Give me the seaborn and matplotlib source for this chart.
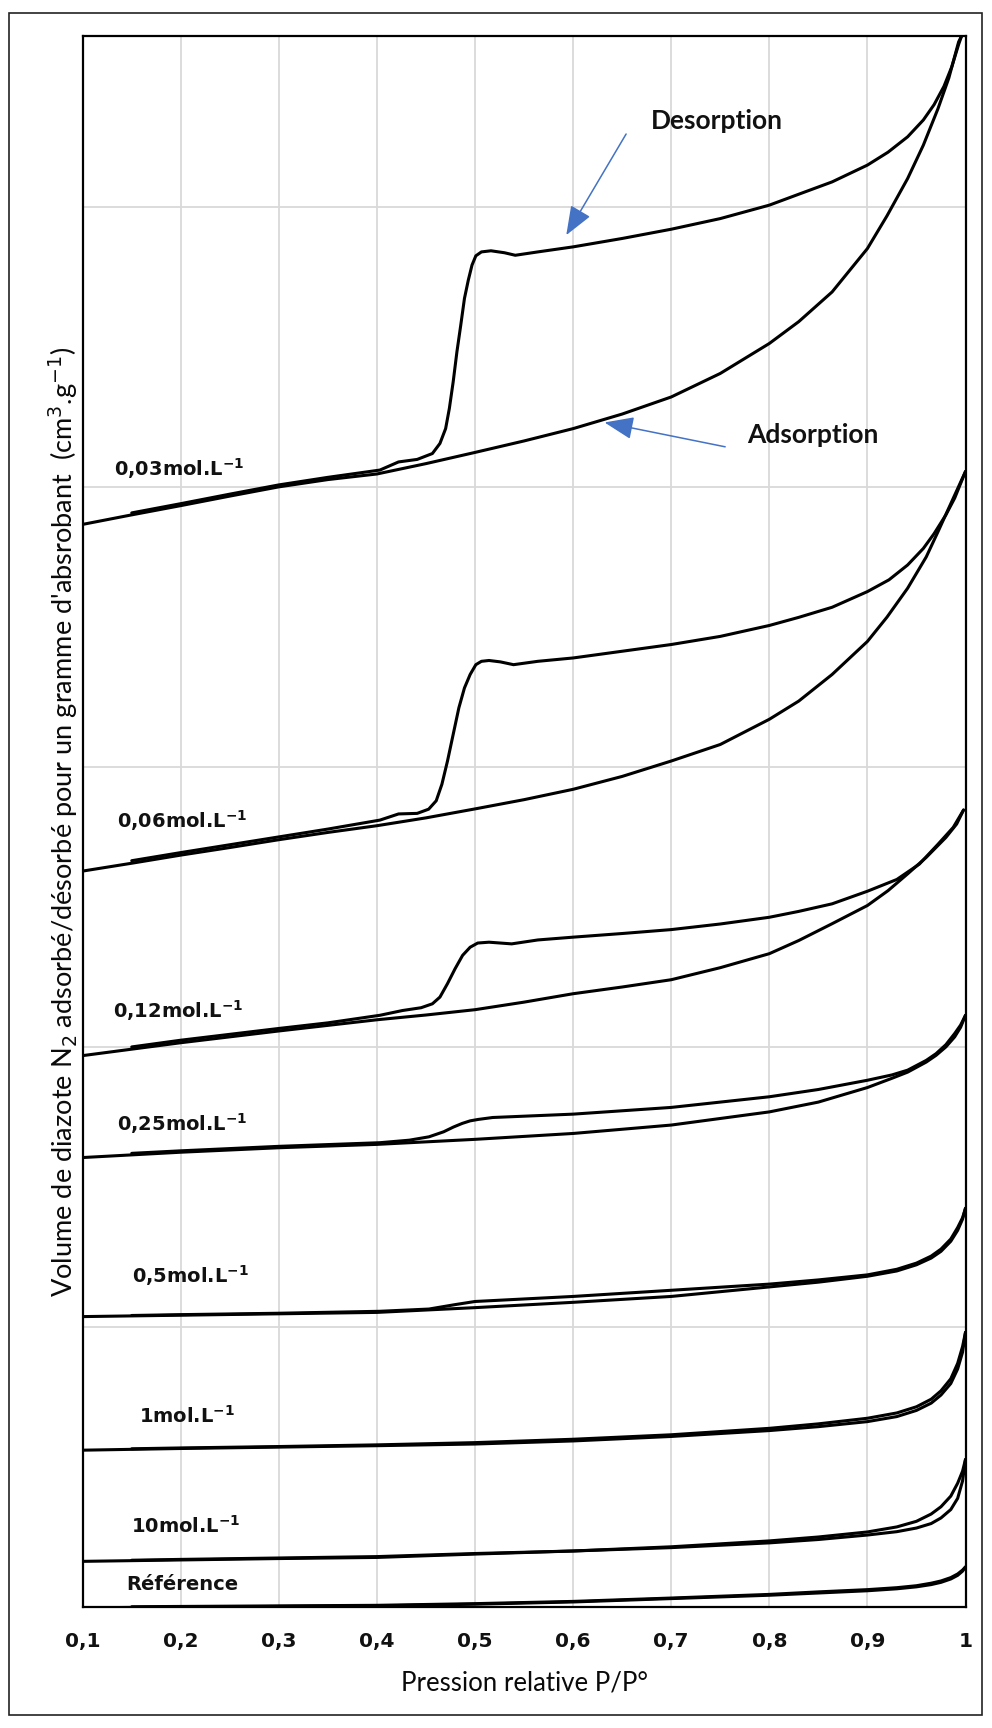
import numpy as np
import pandas as pd
import matplotlib
matplotlib.use("Agg")
import matplotlib.pyplot as plt
import seaborn as sns
from matplotlib.patches import Rectangle

# ---------------- data ----------------
x_ticks = [0.1, 0.2, 0.3, 0.4, 0.5, 0.6, 0.7, 0.8, 0.9, 1.0]
x_tick_labels = ["0,1", "0,2", "0,3", "0,4", "0,5", "0,6", "0,7", "0,8", "0,9", "1"]
y_grid = [0, 100, 200, 300, 400, 500]

# 0,03 mol/L
c003_ads_x = [0.10, 0.15, 0.20, 0.25, 0.30, 0.35, 0.40, 0.45, 0.50, 0.55, 0.60, 0.65, 0.70, 0.75, 0.80, 0.83, 0.864, 0.90, 0.92, 0.941, 0.957, 0.972, 0.983, 0.993, 0.996]
c003_ads_y = [386.6, 390.0, 393.3, 396.7, 400.0, 402.6, 404.6, 408.3, 412.3, 416.4, 420.8, 426.0, 432.1, 440.5, 451.2, 459.0, 469.6, 485.1, 496.8, 510.1, 522.0, 535.1, 546.0, 558.9, 561.0]
c003_des_x = [0.996, 0.993, 0.986, 0.978, 0.968, 0.957, 0.941, 0.921, 0.90, 0.864, 0.83, 0.80, 0.75, 0.70, 0.65, 0.60, 0.564, 0.541, 0.53, 0.5162, 0.5065, 0.5008, 0.4969, 0.4931, 0.4892, 0.4854, 0.4815, 0.4777, 0.4738, 0.470, 0.4642, 0.4565, 0.441, 0.422, 0.403, 0.35, 0.30, 0.25, 0.20, 0.15]
c003_des_y = [561.0, 558.0, 550.0, 543.0, 536.5, 531.0, 525.0, 519.5, 514.9, 508.9, 504.5, 500.6, 495.8, 492.0, 488.7, 485.7, 483.9, 482.7, 483.6, 484.3, 483.9, 482.5, 479.2, 473.8, 467.3, 457.7, 448.2, 437.5, 428.0, 420.8, 415.5, 411.9, 409.8, 408.9, 406.0, 403.4, 400.7, 397.4, 394.0, 390.7]

# 0,06 mol/L
c006_ads_x = [0.10, 0.15, 0.20, 0.25, 0.30, 0.35, 0.40, 0.45, 0.50, 0.55, 0.60, 0.65, 0.70, 0.75, 0.80, 0.83, 0.864, 0.90, 0.92, 0.941, 0.96, 0.972, 0.985, 1.0]
c006_ads_y = [262.8, 265.6, 268.5, 271.2, 274.0, 276.6, 279.0, 281.8, 285.0, 288.3, 292.0, 296.6, 302.1, 308.0, 317.0, 323.5, 333.0, 344.8, 353.5, 363.8, 375.0, 384.0, 394.0, 405.5]
c006_des_x = [1.0, 0.989, 0.98, 0.968, 0.957, 0.941, 0.922, 0.90, 0.864, 0.83, 0.80, 0.75, 0.70, 0.65, 0.60, 0.564, 0.5392, 0.5258, 0.5142, 0.5065, 0.5008, 0.495, 0.4892, 0.4835, 0.4777, 0.4719, 0.4662, 0.4604, 0.4527, 0.441, 0.422, 0.403, 0.35, 0.30, 0.25, 0.20, 0.15]
c006_des_y = [405.5, 396.0, 390.0, 383.3, 378.0, 372.1, 366.8, 362.6, 357.0, 353.4, 350.5, 346.6, 343.7, 341.3, 338.9, 337.7, 336.5, 337.5, 338.0, 337.7, 336.5, 333.0, 328.2, 321.1, 311.6, 302.1, 293.8, 287.9, 284.9, 283.4, 283.2, 281.0, 277.8, 275.0, 272.2, 269.4, 266.5]

# 0,12 mol/L
c012_ads_x = [0.10, 0.15, 0.20, 0.25, 0.30, 0.35, 0.40, 0.45, 0.50, 0.55, 0.60, 0.65, 0.70, 0.75, 0.80, 0.83, 0.864, 0.90, 0.921, 0.941, 0.96, 0.98, 0.991, 0.998]
c012_ads_y = [196.9, 199.2, 201.5, 203.6, 205.7, 207.7, 209.7, 211.4, 213.3, 216.0, 219.0, 221.4, 224.0, 228.3, 233.3, 238.0, 244.0, 250.5, 255.8, 261.8, 267.7, 274.8, 279.6, 284.6]
c012_des_x = [0.998, 0.9875, 0.972, 0.953, 0.93, 0.90, 0.864, 0.83, 0.80, 0.75, 0.70, 0.65, 0.60, 0.564, 0.5373, 0.5258, 0.5142, 0.5027, 0.495, 0.4873, 0.4796, 0.4719, 0.4642, 0.4565, 0.445, 0.426, 0.403, 0.35, 0.30, 0.25, 0.20, 0.15]
c012_des_y = [284.6, 278.4, 272.4, 265.3, 259.8, 255.6, 251.1, 248.4, 246.3, 243.9, 241.9, 240.5, 239.2, 238.2, 236.8, 237.1, 237.4, 237.1, 235.6, 232.7, 227.9, 222.6, 217.8, 215.4, 214.0, 213.0, 211.3, 208.6, 206.6, 204.5, 202.4, 200.0]

# 0,25 mol/L
c025_ads_x = [0.10, 0.20, 0.30, 0.40, 0.50, 0.60, 0.70, 0.80, 0.85, 0.90, 0.925, 0.941, 0.96, 0.97, 0.98, 0.989, 0.995, 1.0]
c025_ads_y = [160.5, 162.4, 164.0, 165.2, 167.0, 169.1, 172.1, 176.8, 180.3, 185.5, 188.8, 191.0, 194.6, 197.0, 200.0, 203.6, 207.0, 211.3]
c025_des_x = [1.0, 0.995, 0.989, 0.98, 0.97, 0.96, 0.941, 0.925, 0.90, 0.85, 0.80, 0.70, 0.60, 0.518, 0.503, 0.495, 0.487, 0.478, 0.468, 0.453, 0.433, 0.403, 0.30, 0.20, 0.15]
c025_des_y = [211.3, 207.8, 204.8, 200.8, 197.6, 195.2, 191.7, 190.0, 188.1, 184.8, 182.2, 178.4, 176.0, 174.8, 174.1, 173.6, 172.7, 171.4, 169.7, 167.9, 166.7, 165.8, 164.5, 162.9, 162.0]

# 0,5 mol/L
c05_ads_x = [0.10, 0.20, 0.30, 0.40, 0.50, 0.60, 0.70, 0.80, 0.85, 0.90, 0.93, 0.95, 0.965, 0.975, 0.985, 0.992, 0.997, 1.0]
c05_ads_y = [103.7, 104.2, 104.7, 105.2, 106.9, 108.8, 110.9, 114.3, 116.0, 118.1, 120.0, 122.2, 124.6, 127.0, 130.6, 134.5, 138.5, 142.4]
c05_des_x = [1.0, 0.997, 0.992, 0.985, 0.975, 0.965, 0.95, 0.93, 0.90, 0.85, 0.80, 0.70, 0.60, 0.50, 0.48, 0.453, 0.403, 0.30, 0.20, 0.15]
c05_des_y = [142.4, 139.0, 135.5, 131.4, 127.8, 125.3, 122.8, 120.6, 118.6, 116.8, 115.3, 113.1, 110.9, 109.1, 108.0, 106.4, 105.6, 104.9, 104.4, 104.1]

# 1 mol/L
c1_ads_x = [0.10, 0.20, 0.30, 0.40, 0.50, 0.60, 0.70, 0.80, 0.85, 0.90, 0.93, 0.95, 0.965, 0.975, 0.985, 0.992, 0.997, 1.0]
c1_ads_y = [56.0, 56.6, 57.1, 57.6, 58.2, 59.3, 60.9, 63.0, 64.4, 66.2, 68.0, 70.2, 72.8, 75.7, 79.8, 85.0, 91.0, 98.1]
c1_des_x = [1.0, 0.997, 0.992, 0.985, 0.975, 0.965, 0.95, 0.93, 0.90, 0.85, 0.80, 0.70, 0.60, 0.50, 0.40, 0.30, 0.20, 0.15]
c1_des_y = [98.1, 93.0, 87.0, 81.5, 77.2, 74.2, 71.5, 69.3, 67.4, 65.4, 63.8, 61.5, 59.9, 58.7, 57.9, 57.3, 56.8, 56.5]

# 10 mol/L
c10_ads_x = [0.10, 0.20, 0.30, 0.40, 0.50, 0.60, 0.70, 0.80, 0.85, 0.90, 0.93, 0.95, 0.965, 0.975, 0.985, 0.992, 0.997, 1.0]
c10_ads_y = [16.3, 16.8, 17.3, 17.7, 18.9, 20.0, 21.2, 22.9, 24.1, 25.7, 26.9, 28.2, 29.8, 31.8, 34.8, 38.8, 45.0, 52.7]
c10_des_x = [1.0, 0.997, 0.992, 0.985, 0.975, 0.965, 0.95, 0.93, 0.90, 0.85, 0.80, 0.70, 0.60, 0.50, 0.40, 0.30, 0.20, 0.15]
c10_des_y = [52.7, 48.5, 44.2, 39.6, 35.8, 33.2, 30.6, 28.6, 26.8, 25.0, 23.6, 21.5, 20.0, 19.1, 18.0, 17.5, 17.0, 16.7]

# Référence
ref_ads_x = [0.10, 0.20, 0.30, 0.40, 0.50, 0.60, 0.70, 0.80, 0.85, 0.90, 0.93, 0.95, 0.965, 0.975, 0.985, 0.992, 0.997, 1.0]
ref_ads_y = [-0.3, 0.0, 0.2, 0.4, 1.0, 1.8, 3.0, 4.2, 5.0, 5.8, 6.5, 7.2, 8.0, 8.8, 10.0, 11.3, 12.8, 14.3]
ref_des_x = [1.0, 0.997, 0.992, 0.985, 0.975, 0.965, 0.95, 0.93, 0.90, 0.85, 0.80, 0.70, 0.60, 0.50, 0.40, 0.30, 0.20, 0.15]
ref_des_y = [14.3, 13.2, 11.8, 10.5, 9.3, 8.5, 7.6, 6.9, 6.2, 5.4, 4.5, 3.2, 2.0, 1.2, 0.6, 0.4, 0.2, 0.1]

sample_labels = ["0,03mol.L$^{\\mathbf{-1}}$", "0,06mol.L$^{\\mathbf{-1}}$", "0,12mol.L$^{\\mathbf{-1}}$",
                 "0,25mol.L$^{\\mathbf{-1}}$", "0,5mol.L$^{\\mathbf{-1}}$", "1mol.L$^{\\mathbf{-1}}$",
                 "10mol.L$^{\\mathbf{-1}}$", "Référence"]
label_x = [0.132, 0.135, 0.131, 0.135, 0.150, 0.157, 0.149, 0.144]
label_y = [406.4, 280.9, 213.0, 172.7, 118.4, 68.4, 28.8, 7.9]

# ---------------- long-form table ----------------
branches = [
    ("0,03", "ads", c003_ads_x, c003_ads_y), ("0,03", "des", c003_des_x, c003_des_y),
    ("0,06", "ads", c006_ads_x, c006_ads_y), ("0,06", "des", c006_des_x, c006_des_y),
    ("0,12", "ads", c012_ads_x, c012_ads_y), ("0,12", "des", c012_des_x, c012_des_y),
    ("0,25", "ads", c025_ads_x, c025_ads_y), ("0,25", "des", c025_des_x, c025_des_y),
    ("0,5", "ads", c05_ads_x, c05_ads_y), ("0,5", "des", c05_des_x, c05_des_y),
    ("1", "ads", c1_ads_x, c1_ads_y), ("1", "des", c1_des_x, c1_des_y),
    ("10", "ads", c10_ads_x, c10_ads_y), ("10", "des", c10_des_x, c10_des_y),
    ("ref", "ads", ref_ads_x, ref_ads_y), ("ref", "des", ref_des_x, ref_des_y),
]
frames = []
for s, b, xs, ys in branches:
    frames.append(pd.DataFrame({"P": xs, "V": ys, "curve": f"{s}_{b}"}))
df = pd.concat(frames, ignore_index=True)

# ---------------- figure ----------------
sns.set_theme(style="white")
plt.rcParams["font.family"] = ["DejaVu Sans"]
plt.rcParams["mathtext.fontset"] = "dejavusans"

W, H = 992, 1728
fig = plt.figure(figsize=(W / 100, H / 100), dpi=100)
L, R, T, B = 82.7, 965.5, 36.0, 1607.0
ax = fig.add_axes([L / W, (H - B) / H, (R - L) / W, (B - T) / H])

sns.lineplot(data=df, x="P", y="V", units="curve", estimator=None, sort=False,
             color="black", linewidth=2.2, ax=ax, legend=False,
             solid_joinstyle="round", solid_capstyle="round")

ax.set_xlim(0.1, 1.0)
ax.set_ylim(0, 561)
ax.set_xticks(x_ticks)
ax.set_xticklabels(x_tick_labels, fontsize=14.5, fontweight="bold", color="#111111")
ax.set_yticks(y_grid)
ax.set_yticklabels([])
ax.tick_params(axis="both", length=0)
ax.tick_params(axis="x", pad=18)
ax.grid(True, color="#D9D9D9", linewidth=1.3)
ax.set_axisbelow(True)
for sp in ax.spines.values():
    sp.set_color("black")
    sp.set_linewidth(1.6)
ax.set_xlabel("")
ax.set_ylabel("")

# axis titles
ax.text(0.5, -0.0484, "Pression relative P/P°", transform=ax.transAxes,
        ha="center", va="center", fontsize=18.5, color="#0a0a0a",
        family=["Lato", "DejaVu Sans"])
ax.text(-0.0215, 0.5,
        "Volume de diazote N$_2$ adsorbé/désorbé pour un gramme d'absrobant  (cm$^3$.g$^{-1}$)",
        transform=ax.transAxes, rotation=90, ha="center", va="center",
        fontsize=19.5, color="#0a0a0a", family=["Lato", "DejaVu Sans"])

# sample labels
for lab, lx, ly in zip(sample_labels, label_x, label_y):
    ax.text(lx, ly, lab, ha="left", va="center", fontsize=14, fontweight="bold", color="#111111")

# annotations
ax.text(0.679, 530.5, "Desorption", ha="left", va="center", fontsize=19,
        fontweight="bold", color="#111111", family=["Lato", "DejaVu Sans"])
ax.text(0.777, 418.5, "Adsorption", ha="left", va="center", fontsize=19,
        fontweight="bold", color="#111111", family=["Lato", "DejaVu Sans"])
arrow_kw = dict(arrowstyle="-|>,head_length=0.9,head_width=0.35", color="#4472C4",
                lw=1.1, shrinkA=0, shrinkB=0, mutation_scale=20)
ax.annotate("", xy=(0.593, 489.9), xytext=(0.654, 526.0), arrowprops=arrow_kw)
ax.annotate("", xy=(0.632, 423.0), xytext=(0.755, 414.3), arrowprops=arrow_kw)

# outer frame
fig.patches.append(Rectangle((8.8 / W, 1 - 1715 / H), (982 - 8.8) / W, (1715 - 13) / H,
                             transform=fig.transFigure, fill=False, edgecolor="#222222",
                             linewidth=1.2))

fig.savefig("out.png", dpi=100, facecolor="white")
